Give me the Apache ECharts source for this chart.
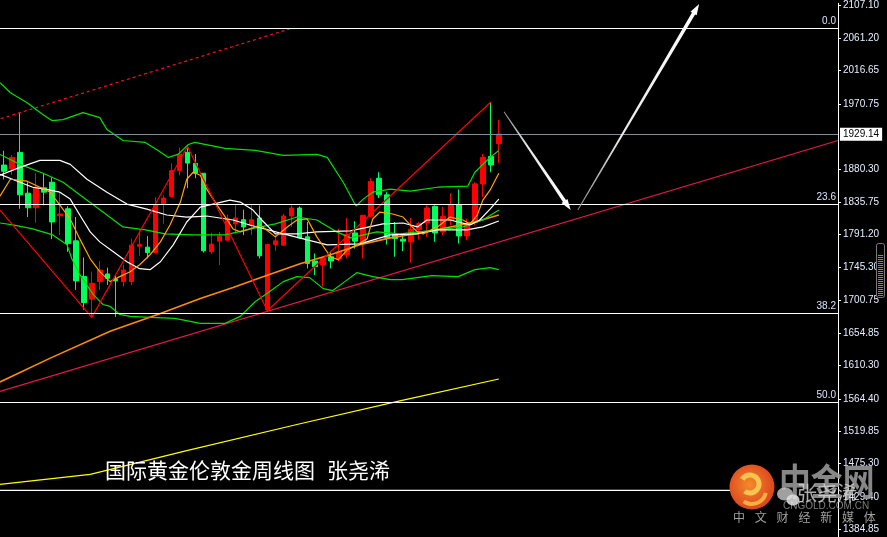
<!DOCTYPE html>
<html><head><meta charset="utf-8">
<script src="https://cdn.jsdelivr.net/npm/echarts@6/dist/echarts.min.js"></script>
<style>html,body{margin:0;padding:0;background:#000;}#c{width:887px;height:537px;}</style>
</head><body><div id="c"></div>
<script>
// weekly candles: [open, close, low, high]
const weeklyOHLC = [
[1886.6,1878.0,1866.6,1906.3],[1881.1,1897.1,1872.9,1900.3],[1904.0,1845.5,1826.3,1958.8],[1847.8,1827.7,1814.9,1862.9],
[1827.7,1856.0,1807.1,1875.2],[1855.1,1849.2,1831.0,1875.6],[1862.9,1808.1,1784.4,1869.7],[1816.7,1819.1,1789.9,1849.2],
[1826.3,1778.4,1767.0,1830.0],[1782.1,1726.9,1714.5,1814.9],[1732.8,1697.2,1687.2,1759.2],[1701.7,1723.6,1676.6,1739.6],
[1725.9,1741.9,1714.5,1754.3],[1736.5,1730.4,1721.4,1745.1],[1729.6,1726.9,1677.3,1735.1],[1725.9,1741.9,1719.1,1749.2],
[1725.9,1776.2,1721.4,1785.2],[1774.8,1777.0,1761.5,1796.7],[1773.4,1766.0,1757.8,1788.5],[1766.0,1831.0,1764.7,1842.3],
[1833.2,1841.0,1805.8,1844.7],[1843.3,1878.9,1842.3,1888.9],[1878.9,1901.7,1872.1,1910.8],[1904.0,1889.3,1854.7,1912.2],
[1888.9,1875.2,1868.4,1901.7],[1875.2,1768.4,1766.0,1875.2],[1767.0,1777.6,1763.9,1793.4],[1781.7,1788.5,1748.8,1794.4],
[1783.0,1812.6,1783.0,1818.1],[1805.4,1813.6,1792.1,1831.0],[1811.2,1801.3,1789.9,1824.9],[1803.6,1811.2,1789.9,1831.0],
[1813.6,1761.5,1757.8,1831.0],[1687.2,1777.0,1685.8,1778.4],[1777.0,1782.1,1768.4,1789.9],[1776.2,1816.3,1776.2,1819.5],
[1816.3,1827.3,1801.3,1831.0],[1827.3,1786.2,1785.2,1829.6],[1787.6,1751.0,1744.1,1808.1],[1754.3,1746.5,1735.1,1764.7],
[1748.8,1757.8,1719.1,1760.2],[1760.2,1754.3,1744.1,1767.0],[1757.0,1767.0,1754.3,1798.9],[1762.5,1790.7,1757.8,1813.6],
[1793.0,1781.7,1771.5,1809.1],[1780.7,1817.3,1757.8,1817.7],[1816.3,1863.8,1814.9,1868.4],[1868.4,1845.5,1841.0,1876.6],
[1845.5,1786.6,1777.0,1849.2],[1790.7,1785.2,1760.2,1808.1],[1784.4,1781.7,1768.0,1792.1],[1780.7,1798.1,1751.9,1813.6],
[1797.6,1805.8,1783.9,1808.1],[1806.7,1827.3,1787.6,1831.0],[1829.6,1793.0,1780.7,1831.0],[1794.4,1815.9,1789.9,1828.6],
[1810.4,1831.8,1803.6,1847.8],[1831.8,1788.9,1778.4,1852.9],[1788.9,1805.8,1783.0,1812.6],[1807.1,1860.6,1803.6,1862.9],
[1860.6,1897.1,1842.3,1901.7],[1898.5,1886.6,1876.6,1973.4],[1916.3,1929.1,1889.3,1948.8]
];
const slotCount = 105;
const priceTicks = [2107.10,2061.20,2016.65,1970.75,1880.30,1835.75,1791.20,1745.30,1700.75,1654.85,1610.30,1564.40,1519.85,1475.30,1429.40,1384.85];
const lastPrice = 1929.14;
const fibLevels = [{name:'0.0',value:2075.2},{name:'23.6',value:1832.75},{name:'38.2',value:1682.1},{name:'50.0',value:1560.2}];
const fib618 = [[-0.5,1438.3],[96,1438.3]];
// indicator lines: [bar index, price]
const bbUpper = [[-0.5,1999.9],[0.8,1986.2],[2.9,1972.5],[4.9,1956.0],[6.0,1947.8],[7.4,1949.2],[9.9,1958.8],[12.0,1951.9],[12.9,1935.5],[14.9,1920.4],[17.7,1917.7],[19.3,1906.7],[20.6,1897.1],[21.8,1901.2],[23.1,1914.9],[23.9,1917.7],[27.7,1909.5],[31.5,1906.7],[35.0,1899.9],[39.2,1901.2],[40.5,1897.1],[42.5,1862.9],[44.1,1830.0],[45.0,1839.6],[46.2,1849.2],[48.4,1853.3],[50.9,1850.6],[54.3,1856.0],[58.1,1857.4],[59.0,1876.6],[60.9,1897.1],[62,1906.7]];
const bbMiddle = [[-0.5,1901.2],[2.0,1887.5],[4.9,1875.2],[7.4,1862.9],[9.9,1842.3],[12.4,1821.8],[14.9,1801.3],[17.7,1797.1],[20.2,1791.7],[23.6,1790.3],[27.7,1790.3],[31.5,1799.9],[34.0,1805.4],[36.7,1814.9],[39.2,1810.8],[41.7,1794.4],[43.4,1786.2],[46.7,1794.4],[49.6,1791.7],[54.3,1797.1],[57.5,1801.3],[60.0,1810.8],[62,1824.5]];
const bbLower = [[-0.5,1806.7],[1.1,1804.0],[3.6,1798.5],[6.1,1790.3],[7.9,1776.6],[8.5,1757.4],[9.5,1735.5],[11.2,1708.1],[12.4,1694.4],[13.3,1691.7],[14.5,1680.7],[15.8,1678.0],[18.3,1676.6],[21.4,1675.2],[24.6,1668.4],[27.7,1668.4],[29.6,1678.0],[31.5,1698.5],[33.3,1712.2],[35.0,1725.9],[36.7,1732.8],[38.3,1731.4],[40.0,1716.3],[41.2,1713.6],[42.7,1725.9],[44.2,1738.2],[46.2,1732.8],[48.4,1728.7],[49.9,1728.7],[53.6,1734.1],[56.9,1732.8],[59.0,1742.4],[60.9,1745.1],[62,1742.4]];
const whiteSlow = [[-0.5,1872.5],[2.0,1883.4],[4.5,1893.0],[7.0,1893.0],[8.3,1887.5],[10.4,1867.0],[12.9,1849.2],[15.4,1832.75],[17.9,1825.9],[20.4,1817.7],[22.9,1814.9],[25.4,1816.3],[28.7,1810.8],[30.8,1804.0],[35.0,1791.7],[40.5,1776.6],[44.6,1778.0],[48.4,1790.3],[51.8,1791.7],[54.3,1797.1],[58.0,1797.1],[60.0,1801.3],[62,1809.5]];
const whiteFast = [[-0.5,1873.8],[2.0,1862.9],[3.6,1856.0],[5.8,1851.9],[7.0,1849.2],[8.3,1839.6],[9.5,1817.7],[10.8,1794.4],[12.0,1780.7],[13.7,1767.0],[15.4,1753.3],[17.0,1743.7],[18.3,1742.4],[19.6,1753.3],[21.2,1776.6],[22.9,1808.1],[24.6,1828.6],[26.2,1832.75],[28.3,1838.2],[29.6,1835.5],[31.2,1824.5],[32.3,1810.8],[34.0,1791.7],[36.7,1791.7],[39.2,1794.4],[43.4,1795.8],[47.5,1805.4],[50.0,1806.7],[51.8,1801.3],[53.0,1810.8],[55.9,1810.8],[58.4,1804.0],[59.6,1810.8],[60.9,1825.9],[62,1839.6]];
const orangeFast = [[-0.5,1843.7],[0.8,1867.0],[2.9,1864.3],[4.5,1856.0],[5.8,1849.2],[7.0,1831.4],[8.3,1812.2],[9.5,1784.8],[10.8,1757.4],[12.0,1739.6],[13.3,1725.9],[14.5,1732.8],[15.8,1739.6],[17.0,1749.2],[18.3,1762.9],[19.6,1780.7],[20.8,1804.0],[22.1,1835.5],[22.9,1867.0],[23.7,1876.6],[24.6,1872.5],[25.4,1853.3],[26.7,1831.4],[27.9,1812.2],[28.7,1798.5],[29.6,1794.4],[30.8,1798.5],[32.1,1804.0],[34.0,1787.6],[35.5,1801.3],[36.7,1810.8],[38.0,1812.2],[39.2,1787.6],[40.9,1760.2],[41.9,1756.1],[43.0,1769.7],[44.2,1776.6],[45.5,1784.8],[46.2,1812.2],[47.1,1821.8],[48.7,1819.1],[50.0,1814.9],[50.9,1804.0],[51.8,1794.4],[52.5,1791.7],[54.3,1801.3],[55.9,1814.9],[57.5,1810.8],[58.4,1805.4],[59.3,1817.7],[60.0,1838.2],[60.9,1851.9],[62,1875.2]];
const orangeSlow = [[-0.5,1587.6],[5.8,1620.5],[13.3,1657.4],[19.6,1682.1],[24.6,1702.6],[28.7,1717.7],[32.1,1731.4],[37.1,1750.6],[40.9,1762.9],[44.6,1776.6],[48.4,1786.2],[52.1,1793.0],[55.9,1801.3],[59.0,1808.1],[62,1817.7]];
const yellowMA = [[-0.5,1446.5],[10.8,1460.2],[22.9,1493.1],[37.1,1530.1],[49.6,1561.6],[62,1591.7]];
const zigzag = [[-0.5,1824.5],[11,1676.6],[23,1912.2],[33,1685.8],[61,1973.4]];
const redDashed = [[-0.4,1950.5],[35.7,2073.8]];
const trendLine = [[-0.5,1574.6],[104.5,1920.4]];
const arrows = [[62.65,1960.1,71.0,1824.5],[71.9,1824.5,87.1,2108.5]];

const chart = echarts.init(document.getElementById('c'), null, {renderer:'canvas'});
const slots = Array.from({length: slotCount}, (_, i) => String(i));
function line(data, color, width, extra) {
  return Object.assign({type:'line', xAxisIndex:1, yAxisIndex:0, data, showSymbol:false, symbol:'none',
    lineStyle:{color, width}, silent:true, z:3, clip:true}, extra||{});
}
const meter = [];
meter.push({type:'rect', shape:{x:876.5,y:243.5,width:8,height:54,r:2}, style:{fill:'#000',stroke:'#7a7a7a',lineWidth:1}, z:10});
for (let y = 255; y <= 295; y += 2) meter.push({type:'rect', shape:{x:878,y:y,width:5,height:1}, style:{fill:'#10d030'}, z:11});
const tagline = ['中','文','财','经','新','媒','体'];
const logo = [
  {type:'circle', shape:{cx:752,cy:487,r:22.5}, style:{fill:new echarts.graphic.RadialGradient(0.45,0.45,0.7,[{offset:0,color:'#f38a2a'},{offset:1,color:'#d7331b'}])}, z:20},
  {type:'arc', shape:{cx:750,cy:484,r:9,startAngle:-2.6,endAngle:2.2}, style:{stroke:'#f7c450',lineWidth:5,fill:null}, z:21},
  {type:'arc', shape:{cx:752,cy:490,r:14,startAngle:0.2,endAngle:2.2}, style:{stroke:'#f4b040',lineWidth:4,fill:null}, z:21},
  {type:'text', x:779, y:463, scaleX:0.86, style:{text:'中金网', fill:'rgba(150,150,150,0.9)', fontSize:37, fontWeight:'bold', fontFamily:'Noto Sans CJK SC'}, z:20},
  {type:'text', x:783, y:501, style:{text:'CNGOLD.COM.CN', fill:'rgba(140,140,140,0.9)', fontSize:10, fontFamily:'Liberation Sans'}, z:20},
  {type:'ellipse', shape:{cx:785,cy:494,rx:8,ry:6.5}, style:{fill:'rgba(200,200,200,0.8)'}, z:22},
  {type:'ellipse', shape:{cx:793,cy:500,rx:6.5,ry:5.5}, style:{fill:'rgba(225,225,225,0.85)'}, z:22},
  {type:'text', x:797, y:483, style:{text:'张尧浠', fill:'rgba(215,215,215,0.8)', fontSize:20, fontFamily:'Noto Sans CJK SC'}, z:23}
];
tagline.forEach((ch, k) => logo.push({type:'text', x:733 + k*21.8, y:511, style:{text:ch, fill:'#a0a0a0', fontSize:12, fontFamily:'Noto Sans CJK SC'}, z:20}));

const option = {
  backgroundColor:'#000',
  animation:false,
  grid:{left:0, right:49, top:0, bottom:0, containLabel:false},
  xAxis:[
    {type:'category', data:slots, boundaryGap:true, show:false},
    {type:'value', min:-0.5, max:slotCount-0.5, show:false}
  ],
  yAxis:{type:'value', position:'right', min:1374.0, max:2109.4, splitLine:{show:false},
    axisLine:{show:true, onZero:false, lineStyle:{color:'#ffffff', width:1}},
    axisTick:{show:true, length:3, customValues:priceTicks, lineStyle:{color:'#ffffff'}},
    axisLabel:{customValues:priceTicks, formatter:v=>Number(v).toFixed(2), color:'#e8eeff', fontSize:10, margin:5, fontFamily:'Liberation Sans'}},
  graphic:[
    {type:'text', x:105, y:460, style:{text:'国际黄金伦敦金周线图', fill:'#ffffff', fontSize:21, fontFamily:'Noto Sans CJK SC'}, z:30},
    {type:'text', x:327, y:460, style:{text:'张尧浠', fill:'#ffffff', fontSize:21, fontFamily:'Noto Sans CJK SC'}, z:30}
  ].concat(meter, logo),
  series:[
    line(yellowMA, '#ffff00', 1.2),
    line(orangeSlow, '#ff8c00', 1.6),
    line(trendLine, '#e8184a', 1.2),
    line(redDashed, '#ff1010', 1.2, {lineStyle:{color:'#ff1010', width:1.2, type:[3,3]}}),
    line(fib618, '#ffffff', 1.2),
    {type:'line', xAxisIndex:1, data:[], silent:true,
      markLine:{silent:true, symbol:['none','none'], animation:false,
        data: fibLevels.map(f => ({yAxis:f.value, name:f.name, lineStyle:{color:'#ffffff', width:1.2, type:'solid'},
          label:{show:true, position:'insideEndTop', formatter:'{b}', color:'#d8e4ff', fontSize:10, distance:2, fontFamily:'Liberation Sans'}}))
        .concat([{yAxis:lastPrice, name:'last', lineStyle:{color:'#7f8e9c', width:1, type:'solid'},
          label:{show:true, position:'end', formatter:lastPrice.toFixed(2), backgroundColor:'#ffffff', color:'#000000', padding:[2,3,1,3], distance:2, fontSize:10, fontFamily:'Liberation Sans'}}])
      }},
    {type:'candlestick', xAxisIndex:0, yAxisIndex:0, data:weeklyOHLC, barWidth:5, z:2, silent:true,
      itemStyle:{color:'#ff0000', color0:'#00ff5a', borderColor:'#ff0000', borderColor0:'#00ff5a', borderWidth:1}},
    line(bbUpper, '#00e000', 1.2),
    line(bbMiddle, '#00e000', 1.2),
    line(bbLower, '#00e000', 1.2),
    line(whiteSlow, '#ffffff', 1.2),
    line(whiteFast, '#ffffff', 1.2),
    line(orangeFast, '#ffa500', 1.2),
    line(zigzag, '#ff0000', 1.2),
    {type:'custom', xAxisIndex:1, yAxisIndex:0, data:arrows, encode:{x:[0,2], y:[1,3]}, clip:false, silent:true, z:5,
      renderItem:function(params, api){
        const p1 = api.coord([api.value(0), api.value(1)]);
        const p2 = api.coord([api.value(2), api.value(3)]);
        const dx = p2[0]-p1[0], dy = p2[1]-p1[1];
        const len = Math.sqrt(dx*dx+dy*dy);
        const ux = dx/len, uy = dy/len, nx = -uy, ny = ux;
        const headLen = 11, headHalf = 3.6, w0 = 0.5, w1 = 1.8;
        const hb = [p2[0]-ux*headLen, p2[1]-uy*headLen];
        const pts = [
          [p1[0]+nx*w0, p1[1]+ny*w0], [hb[0]+nx*w1, hb[1]+ny*w1], [hb[0]+nx*headHalf, hb[1]+ny*headHalf],
          p2, [hb[0]-nx*headHalf, hb[1]-ny*headHalf], [hb[0]-nx*w1, hb[1]-ny*w1], [p1[0]-nx*w0, p1[1]-ny*w0]
        ];
        return {type:'polygon', shape:{points:pts}, style:{
          fill:new echarts.graphic.LinearGradient(p1[0],p1[1],p2[0],p2[1],[{offset:0,color:'#8c8c8c'},{offset:0.35,color:'#e8e8e8'},{offset:1,color:'#ffffff'}], true)}};
      }}
  ]
};
chart.setOption(option);
</script></body></html>
